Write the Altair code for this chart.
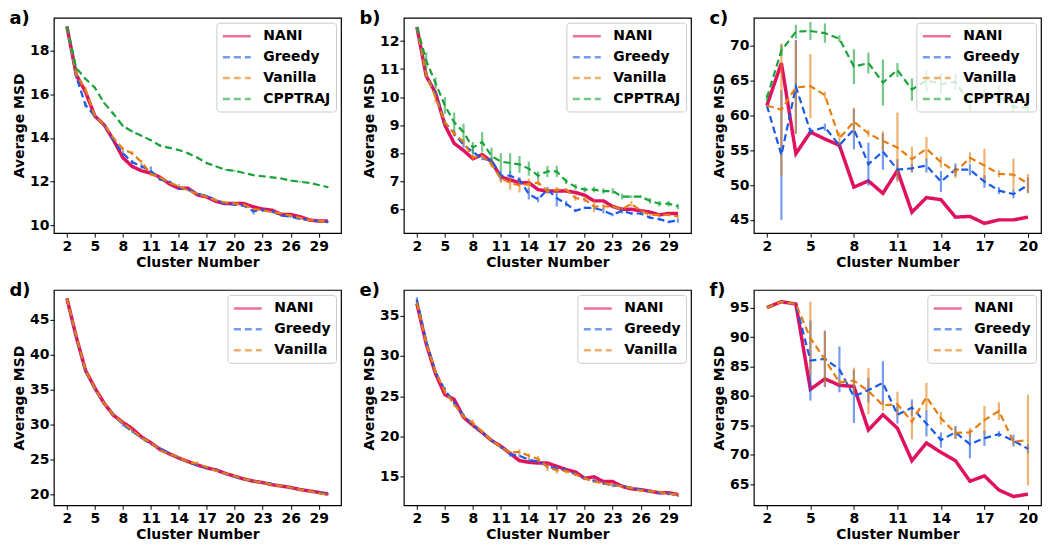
import altair as alt
import pandas as pd

METHODS = ["NANI", "Greedy", "Vanilla", "CPPTRAJ"]
COLORS = ["#e0115f", "#1a5ae6", "#e57e12", "#1aa33a"]
DASHES = [[1, 0], [7, 4], [7, 4], [7, 4]]

K30 = [2, 3, 4, 5, 6, 7, 8, 9, 10, 11, 12, 13, 14, 15, 16, 17, 18, 19, 20,
       21, 22, 23, 24, 25, 26, 27, 28, 29, 30]
K20 = [2, 3, 4, 5, 6, 7, 8, 9, 10, 11, 12, 13, 14, 15, 16, 17, 18, 19, 20]
XT30 = [2, 5, 8, 11, 14, 17, 20, 23, 26, 29]
XT20 = [2, 5, 8, 11, 14, 17, 20]

# ---- panel a ----
a_nani = [19.1, 16.9, 16.1, 15.0, 14.6, 13.9, 13.1, 12.7, 12.5, 12.4, 12.2, 11.9, 11.7, 11.7, 11.4,
          11.3, 11.1, 11.0, 11.0, 11.0, 10.85, 10.75, 10.7, 10.5, 10.5, 10.4, 10.25, 10.2, 10.2]
a_greedy = [19.1, 16.8, 15.5, 15.0, 14.6, 13.9, 13.3, 12.9, 12.7, 12.5, 12.1, 12.0, 11.7, 11.65, 11.45,
            11.35, 11.15, 11.0, 10.95, 10.9, 10.65, 10.7, 10.65, 10.45, 10.4, 10.3, 10.25, 10.2, 10.15]
a_vanilla = [19.1, 16.9, 16.2, 15.0, 14.6, 14.0, 13.5, 13.3, 12.9, 12.35, 12.2, 11.95, 11.8, 11.6, 11.45,
             11.3, 11.15, 11.05, 11.0, 10.95, 10.75, 10.7, 10.6, 10.55, 10.45, 10.35, 10.25, 10.2, 10.2]
a_cpptraj = [19.1, 17.2, 16.7, 16.3, 15.6, 15.1, 14.55, 14.3, 14.1, 13.9, 13.65, 13.55, 13.45, 13.3, 13.1,
             12.85, 12.7, 12.55, 12.5, 12.4, 12.3, 12.25, 12.2, 12.15, 12.05, 12.0, 11.95, 11.85, 11.75]
a_greedy_err = [0, 0.1, 0.1, 0.05, 0.05, 0.05, 0.1, 0.1, 0.1, 0.2, 0.05, 0.05, 0.05, 0.05, 0.05,
                0.05, 0.05, 0.05, 0.05, 0.05, 0.15, 0.05, 0.05, 0.05, 0.05, 0.05, 0.05, 0.03, 0.03]
a_vanilla_err = [0, 0.1, 0.15, 0.05, 0.05, 0.05, 0.1, 0.1, 0.1, 0.1, 0.05, 0.05, 0.1, 0.05, 0.05,
                 0.05, 0.05, 0.05, 0.05, 0.05, 0.05, 0.05, 0.05, 0.05, 0.05, 0.05, 0.05, 0.03, 0.03]
a_cpptraj_err = [0, 0.05, 0.05, 0.05, 0.05, 0.05, 0.05, 0.05, 0.05, 0.05, 0.05, 0.05, 0.05, 0.05, 0.05,
                 0.05, 0.03, 0.03, 0.03, 0.03, 0.03, 0.03, 0.03, 0.03, 0.03, 0.03, 0.03, 0.03, 0.03]

# ---- panel b ----
b_nani = [12.5, 10.75, 10.15, 9.0, 8.35, 8.1, 7.8, 7.95, 7.7, 7.15, 7.05, 6.95, 6.95, 6.7, 6.65,
          6.65, 6.65, 6.6, 6.5, 6.3, 6.3, 6.1, 6.0, 6.0, 5.95, 5.9, 5.8, 5.85, 5.85]
b_greedy = [12.5, 10.8, 10.1, 9.1, 8.7, 8.3, 8.05, 7.8, 7.75, 7.2, 7.2, 7.05, 6.55, 6.35, 6.7,
            6.4, 6.2, 5.95, 6.05, 6.05, 5.95, 5.8, 5.95, 5.85, 5.85, 5.7, 5.65, 5.55, 5.6]
b_vanilla = [12.5, 10.8, 10.0, 9.1, 8.7, 8.4, 7.85, 7.9, 7.6, 7.1, 6.95, 6.85, 6.9, 6.95, 6.65,
             6.7, 6.7, 6.4, 6.35, 6.1, 6.1, 6.1, 6.0, 6.2, 5.95, 5.8, 5.8, 5.8, 5.75]
b_cpptraj = [12.5, 11.3, 10.5, 9.7, 9.1, 8.75, 8.2, 8.4, 7.9, 7.7, 7.65, 7.6, 7.45, 7.2, 7.35,
             7.35, 7.0, 6.8, 6.7, 6.7, 6.65, 6.65, 6.45, 6.45, 6.45, 6.3, 6.2, 6.2, 6.1]
b_greedy_err = [0, 0.1, 0.1, 0.1, 0.1, 0.1, 0.1, 0.05, 0.1, 0.2, 0.15, 0.1, 0.2, 0.1, 0.1,
                0.3, 0.1, 0.05, 0.05, 0.05, 0.1, 0.05, 0.1, 0.05, 0.05, 0.05, 0.05, 0.05, 0.08]
b_vanilla_err = [0, 0.1, 0.2, 0.1, 0.1, 0.1, 0.1, 0.05, 0.1, 0.15, 0.25, 0.25, 0.2, 0.1, 0.1,
                 0.1, 0.05, 0.1, 0.1, 0.2, 0.1, 0.05, 0.05, 0.1, 0.05, 0.05, 0.05, 0.05, 0.05]
b_cpptraj_err = [0, 0.3, 0.2, 0.3, 0.35, 0.3, 0.2, 0.35, 0.3, 0.3, 0.35, 0.3, 0.25, 0.15, 0.2,
                 0.2, 0.1, 0.1, 0.1, 0.1, 0.1, 0.1, 0.1, 0.05, 0.05, 0.1, 0.1, 0.1, 0.1]

# ---- panel c ----
c_nani = [61.4, 67.5, 54.5, 57.6, 56.6, 55.7, 49.7, 50.6, 48.8, 52.1, 46.1, 48.2, 47.9, 45.4, 45.5,
          44.5, 45.0, 45.0, 45.4]
c_greedy = [61.4, 54.3, 64.1, 57.7, 58.3, 55.7, 58.0, 53.0, 54.8, 52.2, 52.4, 52.8, 50.5, 52.2, 52.2,
            50.5, 49.2, 48.7, 50.0]
c_vanilla = [61.4, 60.8, 64.0, 64.2, 62.9, 56.7, 59.1, 57.4, 56.3, 55.4, 53.7, 55.2, 53.3, 51.9, 53.9,
             52.8, 51.6, 51.5, 50.2]
c_cpptraj = [62.5, 69.3, 72.0, 72.1, 71.8, 71.0, 67.0, 67.5, 64.7, 66.5, 63.7, 65.0, 64.5, 64.8, 61.8,
             63.0, 62.8, 61.2, 61.1]
c_greedy_err = [0, 9.3, 6.7, 0.5, 0.5, 0.5, 2.9, 3.1, 2.6, 1.5, 0.6, 1.0, 1.5, 0.9, 0.8,
                0.9, 0.5, 0.6, 1.1]
c_vanilla_err = [0, 9.5, 6.7, 4.6, 0.5, 0.9, 2.0, 0.5, 1.4, 5.0, 1.8, 1.7, 0.8, 0.9, 0.8,
                 2.4, 0.5, 2.3, 1.4]
c_cpptraj_err = [0.5, 0.8, 1.0, 1.3, 1.4, 0.5, 2.5, 1.5, 3.3, 1.0, 1.6, 1.6, 1.5, 1.2, 1.2,
                 0.8, 1.5, 0.6, 0.5]

# ---- panel d ----
d_nani = [48.0, 42.5, 37.7, 35.2, 33.0, 31.3, 30.3, 29.4, 28.2, 27.4, 26.4, 25.8, 25.2, 24.7, 24.2,
          23.8, 23.5, 23.0, 22.6, 22.2, 21.9, 21.7, 21.4, 21.2, 21.0, 20.7, 20.5, 20.3, 20.05]
d_greedy = [48.0, 42.5, 37.6, 35.0, 33.0, 31.4, 30.0, 29.0, 28.1, 27.2, 26.6, 25.9, 25.2, 24.6, 24.2,
            23.8, 23.5, 23.0, 22.5, 22.2, 21.9, 21.7, 21.5, 21.2, 21.0, 20.7, 20.5, 20.3, 20.1]
d_vanilla = [48.0, 42.6, 37.7, 35.1, 33.0, 31.3, 30.2, 29.2, 28.1, 27.4, 26.3, 25.8, 25.3, 24.6, 24.4,
             23.9, 23.4, 23.0, 22.6, 22.2, 21.9, 21.7, 21.4, 21.2, 21.0, 20.7, 20.5, 20.2, 19.95]
d_greedy_err = [0, 0.1, 0.1, 0.1, 0.1, 0.1, 0.3, 0.2, 0.1, 0.1, 0.2, 0.2, 0.1, 0.1, 0.1,
                0.1, 0.1, 0.1, 0.1, 0.1, 0.1, 0.1, 0.1, 0.1, 0.1, 0.1, 0.1, 0.1, 0.1]
d_vanilla_err = [0, 0.1, 0.1, 0.1, 0.1, 0.1, 0.2, 0.2, 0.1, 0.1, 0.1, 0.1, 0.2, 0.2, 0.3,
                 0.1, 0.1, 0.1, 0.1, 0.1, 0.1, 0.1, 0.1, 0.1, 0.1, 0.1, 0.1, 0.1, 0.1]

# ---- panel e ----
e_nani = [36.5, 31.5, 27.8, 25.2, 24.6, 22.4, 21.4, 20.5, 19.5, 18.8, 17.9, 17.0, 16.8, 16.7, 16.7,
          16.3, 15.9, 15.6, 14.8, 15.0, 14.4, 14.4, 13.8, 13.5, 13.4, 13.2, 13.0, 13.0, 12.8]
e_greedy = [37.0, 31.8, 28.0, 25.8, 24.2, 22.6, 21.5, 20.5, 19.5, 18.7, 17.8, 17.6, 17.1, 16.9, 16.3,
            16.0, 15.8, 15.3, 14.8, 14.5, 14.2, 13.9, 13.9, 13.6, 13.4, 13.2, 13.0, 12.9, 12.7]
e_vanilla = [36.6, 31.6, 28.0, 25.6, 24.0, 22.5, 21.7, 20.6, 19.5, 18.7, 18.0, 18.1, 17.6, 17.2, 16.2,
             15.8, 15.7, 15.3, 14.8, 14.4, 14.2, 14.0, 13.8, 13.6, 13.3, 13.2, 13.1, 12.9, 12.8]
e_greedy_err = [0.3, 0.2, 0.2, 0.3, 0.2, 0.2, 0.2, 0.2, 0.2, 0.2, 0.3, 0.2, 0.2, 0.2, 0.3,
                0.3, 0.2, 0.2, 0.2, 0.2, 0.2, 0.2, 0.2, 0.2, 0.2, 0.2, 0.2, 0.2, 0.2]
e_vanilla_err = [0.3, 0.2, 0.2, 0.4, 0.3, 0.2, 0.4, 0.2, 0.2, 0.2, 0.2, 0.3, 0.3, 0.4, 0.5,
                 0.4, 0.3, 0.2, 0.2, 0.2, 0.2, 0.2, 0.2, 0.2, 0.2, 0.2, 0.2, 0.2, 0.2]

# ---- panel f ----
f_nani = [95.0, 96.0, 95.6, 81.1, 82.9, 81.8, 81.6, 74.2, 76.8, 74.5, 69.0, 72.0, 70.4, 69.0, 65.5,
          66.4, 64.0, 62.9, 63.3]
f_greedy = [95.0, 96.0, 95.6, 86.0, 86.3, 84.5, 79.9, 81.0, 82.2, 76.8, 78.0, 75.3, 72.5, 73.8, 71.8,
            72.8, 73.5, 72.4, 71.0]
f_vanilla = [95.0, 96.0, 95.6, 89.8, 86.2, 82.3, 82.6, 80.8, 78.4, 78.6, 75.6, 79.8, 76.2, 73.7, 73.8,
             75.9, 77.4, 72.2, 72.5]
f_greedy_err = [0, 0, 0, 6.8, 4.8, 3.9, 4.5, 2.1, 3.7, 1.5, 1.4, 2.2, 1.3, 1.1, 2.4,
                1.3, 0.5, 1.0, 0.8]
f_vanilla_err = [0, 0, 0, 6.2, 4.7, 0.5, 2.2, 3.9, 0.9, 2.1, 3.0, 2.4, 1.1, 1.0, 0.8,
                 2.4, 1.5, 0.5, 7.7]

W, H = 288, 216
FONT = "DejaVu Sans"


def panel(label, ks, series, errs, xdom, xticks, ydom, yticks):
    methods = [m for m in METHODS if m in series]
    n = len(methods)
    rows = []
    for m in methods:
        vals = series[m]
        ers = errs.get(m, [0] * len(vals))
        for k, v, e in zip(ks, vals, ers):
            rows.append({"k": k, "v": v, "lo": v - e, "hi": v + e, "method": m})
    df = pd.DataFrame(rows)

    leg = alt.Legend(title=None, orient="top-right")
    color = alt.Color("method:N", scale=alt.Scale(domain=methods, range=COLORS[:n]), legend=leg)
    dash = alt.StrokeDash("method:N", scale=alt.Scale(domain=methods, range=DASHES[:n]), legend=leg)
    xs = alt.Scale(domain=xdom, nice=False, zero=False)
    ys = alt.Scale(domain=ydom, nice=False, zero=False)
    xax = alt.Axis(values=xticks, title="Cluster Number", labelFlush=False)
    yax = alt.Axis(values=yticks, title="Average MSD")
    x = alt.X("k:Q", scale=xs, axis=xax)

    base = alt.Chart(df)
    nani = base.transform_filter("datum.method == 'NANI'").mark_line(strokeWidth=3.5).encode(
        x=x, y=alt.Y("v:Q", scale=ys, axis=yax), color=color, strokeDash=dash)
    bars = base.transform_filter("datum.method != 'NANI' && datum.hi > datum.lo").mark_rule(
        strokeWidth=2.2, opacity=0.6).encode(
        x=x, y=alt.Y("lo:Q", scale=ys, axis=yax), y2="hi:Q", color=color)
    others = base.transform_filter("datum.method != 'NANI'").mark_line(strokeWidth=2.2).encode(
        x=x, y=alt.Y("v:Q", scale=ys, axis=yax), color=color, strokeDash=dash)
    return alt.layer(nani, bars, others).properties(
        width=W, height=H,
        title=alt.TitleParams(label, anchor="start", frame="bounds", fontSize=18,
                              fontWeight="bold", font=FONT, offset=-10, dx=-3, color="black"),
    )


pa = panel("a)", K30, {"NANI": a_nani, "Greedy": a_greedy, "Vanilla": a_vanilla, "CPPTRAJ": a_cpptraj},
           {"Greedy": a_greedy_err, "Vanilla": a_vanilla_err, "CPPTRAJ": a_cpptraj_err},
           [0.6, 31.4], XT30, [9.65, 19.5], [10, 12, 14, 16, 18])
pb = panel("b)", K30, {"NANI": b_nani, "Greedy": b_greedy, "Vanilla": b_vanilla, "CPPTRAJ": b_cpptraj},
           {"Greedy": b_greedy_err, "Vanilla": b_vanilla_err, "CPPTRAJ": b_cpptraj_err},
           [0.6, 31.4], XT30, [5.15, 12.83], [6, 7, 8, 9, 10, 11, 12])
pc = panel("c)", K20, {"NANI": c_nani, "Greedy": c_greedy, "Vanilla": c_vanilla, "CPPTRAJ": c_cpptraj},
           {"Greedy": c_greedy_err, "Vanilla": c_vanilla_err, "CPPTRAJ": c_cpptraj_err},
           [1.1, 20.9], XT20, [43.1, 74.0], [45, 50, 55, 60, 65, 70])
pd_ = panel("d)", K30, {"NANI": d_nani, "Greedy": d_greedy, "Vanilla": d_vanilla},
            {"Greedy": d_greedy_err, "Vanilla": d_vanilla_err},
            [0.6, 31.4], XT30, [18.45, 49.2], [20, 25, 30, 35, 40, 45])
pe = panel("e)", K30, {"NANI": e_nani, "Greedy": e_greedy, "Vanilla": e_vanilla},
           {"Greedy": e_greedy_err, "Vanilla": e_vanilla_err},
           [0.6, 31.4], XT30, [11.45, 38.2], [15, 20, 25, 30, 35])
pf = panel("f)", K20, {"NANI": f_nani, "Greedy": f_greedy, "Vanilla": f_vanilla},
           {"Greedy": f_greedy_err, "Vanilla": f_vanilla_err},
           [1.1, 20.9], XT20, [61.4, 98.0], [65, 70, 75, 80, 85, 90, 95])

chart = alt.concat(pa, pb, pc, pd_, pe, pf, columns=3, spacing=alt.RowColnumber(row=11, column=16)).resolve_scale(
    color="independent", strokeDash="independent", x="independent", y="independent"
).resolve_legend(color="independent", strokeDash="independent").configure_view(
    stroke="black", strokeWidth=1.2
).configure_axis(
    domain=False, grid=False, tickColor="black", tickSize=4, tickWidth=1,
    labelFont=FONT, labelFontSize=14, labelFontWeight="bold", labelColor="black", labelPadding=2,
    titleFont=FONT, titleFontSize=14, titleFontWeight="bold", titleColor="black", titlePadding=2,
    labelOverlap=False,
).configure_axisY(
    labelPadding=1, titlePadding=3,
).configure_legend(
    labelFont=FONT, labelFontSize=14, labelFontWeight="bold", labelColor="black",
    strokeColor="#cccccc", fillColor="rgba(255,255,255,0.8)", padding=5, cornerRadius=3,
    symbolType="M-1,0H3", symbolSize=196, symbolStrokeWidth=2.5, rowPadding=5,
    offset=5, labelOffset=25, labelLimit=200,
).properties(background="white", padding=0)

chart.save("out.html", embed_options={"renderer": "svg", "actions": False})
